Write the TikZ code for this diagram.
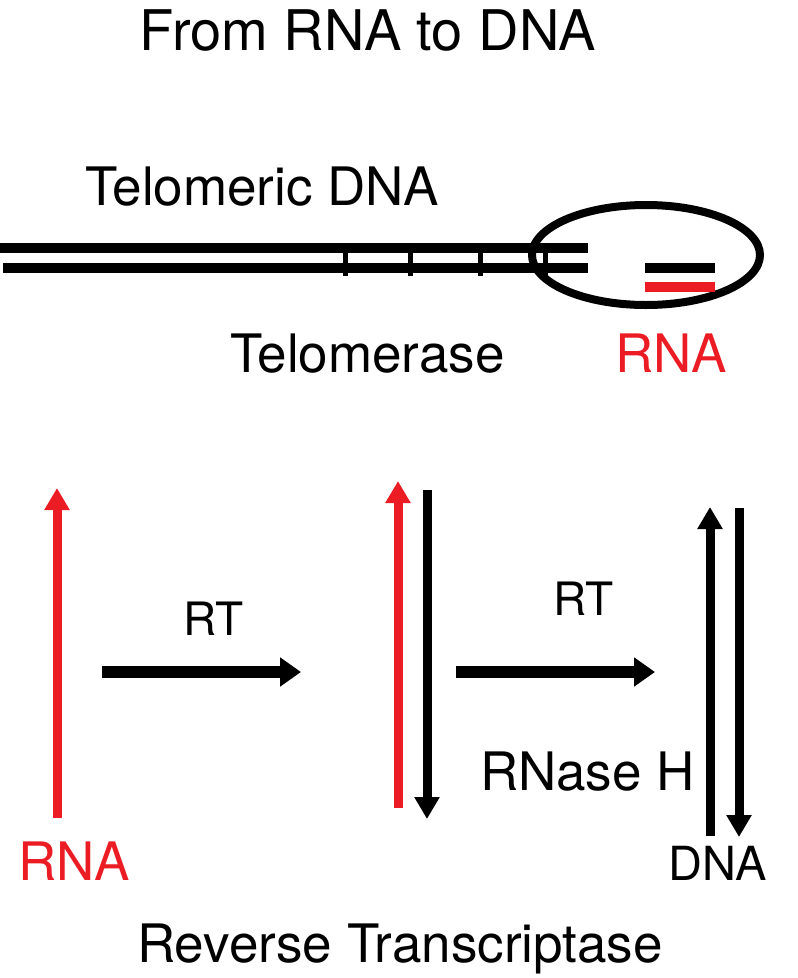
\documentclass[tikz,border=0pt]{standalone}
\usepackage{fontspec}
\setmainfont{TeX Gyre Heros}
\usetikzlibrary{arrows.meta,shapes.geometric}
\definecolor{rnared}{RGB}{236,28,36}
\begin{document}
\begin{tikzpicture}[x=1pt,y=-1pt,
  lbl/.style={anchor=base west,inner sep=0pt,font=\fontsize{53}{53}\selectfont},
  strand/.style={line width=9.5pt},
  rung/.style={line width=5pt},
  tipped/.style={line width=9pt,-{Triangle[length=22pt,width=24pt]}},
  rtarrow/.style={line width=12pt,-{Triangle[length=21pt,width=28pt]}}]
\useasboundingbox (0,0) rectangle (798,978);
% texts
\node[anchor=base,inner sep=0pt,font=\fontsize{56}{56}\selectfont] (title) at (368,50) {From RNA to DNA};
\node[lbl] (telodna) at (85,205) {Telomeric DNA};
\node[lbl] (telomerase) at (230,372) {Telomerase};
\node[lbl,text=rnared] (rnatop) at (615,372) {RNA};
\node[lbl,font=\fontsize{46}{46}\selectfont] (rt1) at (183,635) {RT};
\node[lbl,font=\fontsize{46}{46}\selectfont] (rt2) at (553,615) {RT};
\node[lbl] (rnaseh) at (480,790) {RNase H};
\node[lbl,text=rnared] (rnabot) at (18,880) {RNA};
\node[lbl,font=\fontsize{47}{47}\selectfont] (dnabot) at (668,880) {DNA};
\node[lbl] (revtr) at (137,962) {Reverse Transcriptase};
% telomeric DNA
\coordinate (s1a) at (0,248); \coordinate (s1b) at (588,248);
\coordinate (s2a) at (3,268); \coordinate (s2b) at (588,268);
\draw[strand] (s1a) -- (s1b);
\draw[strand] (s2a) -- (s2b);
\foreach \x in {345,410,480,545}{
  \coordinate (ra) at (\x,252); \coordinate (rb) at (\x,276);
  \draw[rung] (ra) -- (rb);}
\node[draw,line width=8pt,ellipse,minimum width=228pt,minimum height=100pt,inner sep=0pt] (telo) at (646,255) {};
\coordinate (t1a) at (645,268); \coordinate (t1b) at (715,268);
\coordinate (t2a) at (645,287); \coordinate (t2b) at (715,287);
\draw[strand] (t1a) -- (t1b);
\draw[strand,rnared] (t2a) -- (t2b);
% bottom part
\coordinate (r1s) at (57,818); \coordinate (r1e) at (57,488);
\draw[tipped,rnared] (r1s) -- (r1e);
\coordinate (a1s) at (102,672); \coordinate (a1e) at (301,672);
\draw[rtarrow] (a1s) -- (a1e);
\coordinate (r2s) at (398,808); \coordinate (r2e) at (398,481);
\draw[tipped,rnared] (r2s) -- (r2e);
\coordinate (d2s) at (427,490); \coordinate (d2e) at (427,819);
\draw[tipped] (d2s) -- (d2e);
\coordinate (a2s) at (456,672); \coordinate (a2e) at (655,672);
\draw[rtarrow] (a2s) -- (a2e);
\coordinate (d3s) at (710,836); \coordinate (d3e) at (710,507);
\draw[tipped] (d3s) -- (d3e);
\coordinate (d4s) at (739,508); \coordinate (d4e) at (739,837);
\draw[tipped] (d4s) -- (d4e);
\end{tikzpicture}
\end{document}
